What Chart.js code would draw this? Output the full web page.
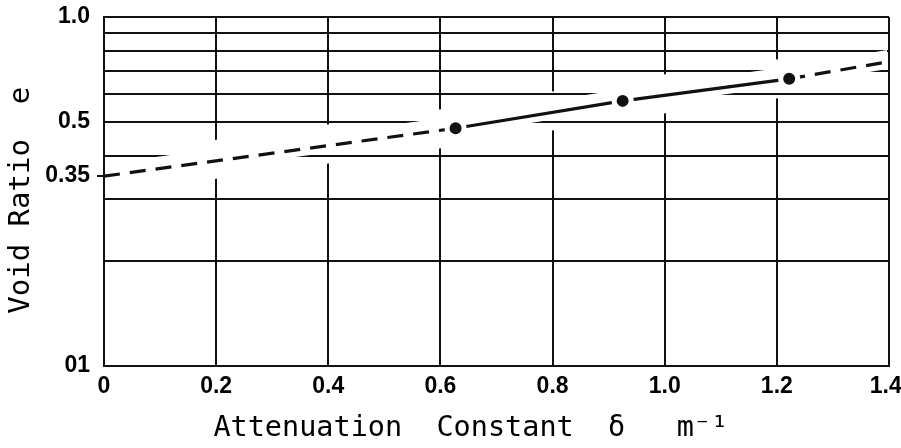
<!DOCTYPE html>
<html>
<head>
<meta charset="utf-8">
<script src="https://cdn.jsdelivr.net/npm/chart.js"></script>
<style>
  body { margin: 0; background: #fff; }
  #wrap { width: 901px; height: 448px; }
</style>
</head>
<body>
<div id="wrap"><canvas id="voidChart"></canvas></div>
<script>
    // attenuation constant (m^-1) against void ratio, log scale on e
    var attenuation = [0, 0.627, 0.925, 1.222, 1.4];
    var voidRatio = [0.35, 0.48, 0.575, 0.665, 0.745];
    // first and last entries are the extrapolated ends of the line (no marker)
    var isMeasured = [false, true, true, true, false];

    var xTicks = [0, 0.2, 0.4, 0.6, 0.8, 1.0, 1.2, 1.4];
    // trailing space pulls the last label back inside the canvas
    var xTickLabels = ['0', '0.2', '0.4', '0.6', '0.8', '1.0', '1.2', '1.4 '];
    var yTicks = [0.1, 0.2, 0.3, 0.35, 0.4, 0.5, 0.6, 0.7, 0.8, 0.9, 1.0];
    var yTickLabels = ['01', '', '', '0.35', '', '0.5', '', '', '', '', '1.0'];

    var ink = '#111';
    var dash = [16, 10];
    var last = attenuation.length - 1;

    function noRule(v) {
      return Math.abs(v - 0.35) < 1e-9;
    }

    // rules are broken where the curve passes: verticals over a wide band,
    // horizontals over a narrower one
    var ruleGaps = {
      id: 'ruleGaps',
      beforeDatasetsDraw: function (chart) {
        var ctx = chart.ctx;
        var a = chart.chartArea;
        var pts = chart.getDatasetMeta(0).data;
        var y = chart.scales.y;

        function band(up, down) {
          ctx.moveTo(pts[0].x, pts[0].y - up);
          for (var i = 1; i < pts.length; i++) ctx.lineTo(pts[i].x, pts[i].y - up);
          for (var j = pts.length - 1; j >= 0; j--) ctx.lineTo(pts[j].x, pts[j].y + down);
          ctx.closePath();
        }

        ctx.save();
        ctx.beginPath();
        ctx.rect(a.left + 2, a.top + 2, a.width - 4, a.height - 4);
        ctx.clip();

        ctx.beginPath();
        band(21, 18);
        ctx.fillStyle = '#fff';
        ctx.fill();

        ctx.beginPath();
        ctx.rect(a.left, a.top, a.width, a.height);
        band(12, 7);
        ctx.clip('evenodd');

        ctx.beginPath();
        y.ticks.forEach(function (t) {
          if (noRule(t.value)) return;
          var py = Math.round(y.getPixelForValue(t.value));
          ctx.moveTo(a.left, py);
          ctx.lineTo(a.right, py);
        });
        ctx.strokeStyle = ink;
        ctx.lineWidth = 2;
        ctx.stroke();
        ctx.restore();
      }
    };

    var points = attenuation.map(function (x, i) {
      return { x: x, y: voidRatio[i] };
    });

    var ctx = document.getElementById('voidChart');
    var voidChart = new Chart(ctx, {
      type: 'line',
      data: {
        datasets: [{
          label: 'Void ratio',
          data: points,
          borderColor: ink,
          borderWidth: 3.2,
          tension: 0,
          segment: {
            borderDash: function (c) {
              return (c.p0DataIndex === 0 || c.p1DataIndex === last) ? dash : undefined;
            }
          },
          pointRadius: function (c) { return isMeasured[c.dataIndex] ? 8.5 : 0; },
          pointBackgroundColor: ink,
          pointBorderColor: '#fff',
          pointBorderWidth: 5,
          pointHoverRadius: 0
        }]
      },
      options: {
        responsive: true,
        maintainAspectRatio: false,
        animation: false,
        layout: {
          padding: { top: 17, right: 12, left: 0, bottom: 0 }
        },
        plugins: {
          legend: { display: false },
          tooltip: { enabled: false }
        },
        scales: {
          x: {
            type: 'linear',
            min: 0,
            max: 1.4,
            afterBuildTicks: function (scale) {
              scale.ticks = xTicks.map(function (v) { return { value: v }; });
            },
            afterFit: function (scale) {
              scale.height = 82;
              // let the end labels hang past the plot edges
              scale.paddingLeft = 0;
              scale.paddingRight = 0;
            },
            grid: { color: ink, lineWidth: 2, drawTicks: false },
            border: { color: ink, width: 2 },
            ticks: {
              color: '#000',
              padding: 7,
              maxRotation: 0,
              autoSkip: false,
              font: { family: 'Liberation Sans', weight: 'bold', size: 23 },
              callback: function (v, i) { return xTickLabels[i]; }
            },
            title: {
              display: true,
              text: 'Attenuation  Constant  δ   m⁻¹   ',
              color: '#000',
              padding: { top: 4, bottom: 2 },
              font: { family: 'DejaVu Sans Mono', size: 28.5 }
            }
          },
          y: {
            type: 'logarithmic',
            min: 0.1,
            max: 1.0,
            afterBuildTicks: function (scale) {
              scale.ticks = yTicks.map(function (v) { return { value: v }; });
            },
            afterFit: function (scale) {
              scale.width = 104;
              scale.paddingTop = 0;
              scale.paddingBottom = 0;
            },
            grid: {
              lineWidth: 2,
              tickLength: 7,
              color: function (c) { return c.tick && noRule(c.tick.value) ? 'rgba(0,0,0,0)' : ink; },
              tickColor: function (c) { return c.tick && noRule(c.tick.value) ? ink : 'rgba(0,0,0,0)'; }
            },
            border: { color: ink, width: 2 },
            ticks: {
              color: '#000',
              padding: 7,
              autoSkip: false,
              font: { family: 'Liberation Sans', weight: 'bold', size: 23 },
              callback: function (v, i) { return yTickLabels[i]; }
            },
            title: {
              display: true,
              text: 'Void Ratio  e ',
              color: '#000',
              padding: { top: 4, bottom: 0 },
              font: { family: 'DejaVu Sans Mono', size: 29 }
            }
          }
        }
      },
      plugins: [ruleGaps]
    });
</script>
</body>
</html>
